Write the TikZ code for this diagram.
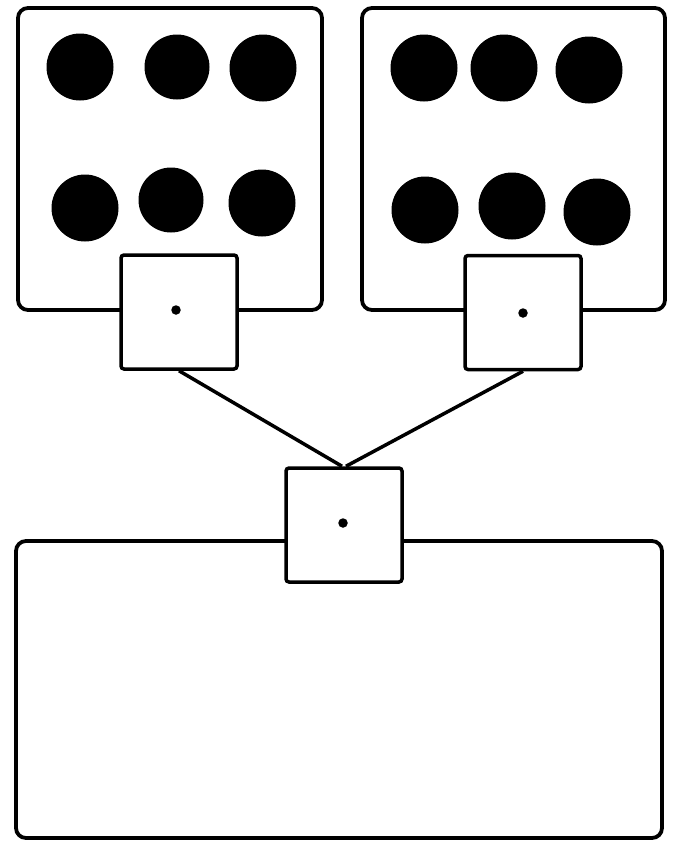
\documentclass[tikz,border=0pt]{standalone}
\begin{document}
\begin{tikzpicture}[x=1pt,y=-1pt]
\tikzset{
  bigbox/.style={draw=black,line width=3.8pt,rounded corners=10pt,fill=white,inner sep=0pt},
  smallbox/.style={draw=black,line width=3.5pt,rounded corners=3pt,fill=white,inner sep=0pt,minimum width=116pt,minimum height=114pt},
  blob/.style={circle,fill=black,inner sep=0pt,minimum size=67pt},
  pip/.style={circle,fill=black,inner sep=0pt,minimum size=9.5pt},
  link/.style={draw=black,line width=3.5pt}
}
\useasboundingbox (0,0) rectangle (676,841);
\fill[white] (0,0) rectangle (676,841);
% big boxes
\node[bigbox,minimum width=304pt,minimum height=302pt] (L) at (170,159) {};
\node[bigbox,minimum width=303pt,minimum height=302pt] (R) at (513.5,159) {};
\node[bigbox,minimum width=646pt,minimum height=297pt] (B) at (339,689.5) {};
% blobs left
\node[blob] (l1) at (80,67) {};
\node[blob,minimum size=65pt] (l2) at (177,67) {};
\node[blob] (l3) at (263,68) {};
\node[blob] (l4) at (85,208) {};
\node[blob,minimum size=65pt] (l5) at (171,200) {};
\node[blob] (l6) at (262,203) {};
% blobs right
\node[blob] (r1) at (424,68) {};
\node[blob] (r2) at (504,68) {};
\node[blob] (r3) at (589,70) {};
\node[blob] (r4) at (425,210) {};
\node[blob] (r5) at (512,206) {};
\node[blob] (r6) at (597,212) {};
% small boxes
\node[smallbox] (sl) at (179,312) {};
\node[smallbox] (sr) at (523,312.5) {};
\node[smallbox] (sc) at (344,525) {};
\node[pip] (pl) at (176,310) {};
\node[pip] (pr) at (523,313) {};
\node[pip] (pc) at (343,523) {};
% connectors
\draw[link] (sl.south) -- ([xshift=-2pt]sc.north);
\draw[link] (sr.south) -- ([xshift=2pt]sc.north);
\end{tikzpicture}
\end{document}
